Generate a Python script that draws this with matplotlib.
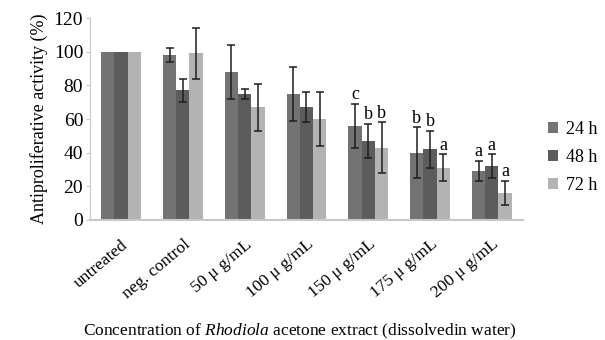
import numpy as np
import matplotlib
matplotlib.use("Agg")
import matplotlib.pyplot as plt

plt.rcParams["font.family"] = ["Liberation Serif", "DejaVu Serif"]
plt.rcParams["mathtext.fontset"] = "custom"
plt.rcParams["mathtext.rm"] = "Liberation Serif"
plt.rcParams["mathtext.it"] = "Liberation Serif:italic"

# Data
kategooriad = ["untreated", "neg. control", "50 \u03bc g/mL", "100 \u03bc g/mL",
               "150 \u03bc g/mL", "175 \u03bc g/mL", "200 \u03bc g/mL"]
seeriad = ["24 h", "48 h", "72 h"]
v24 = [100, 98, 88, 75, 56, 40, 29]
v48 = [100, 77, 75, 67, 47, 42, 32]
v72 = [100, 99, 67, 60, 43, 31, 16]
e24 = [0, 4, 16, 16, 13, 15, 6]
e48 = [0, 7, 3, 9, 10, 11, 7]
e72 = [0, 15, 14, 16, 15, 8, 7]
# significance letters (group index, series index, letter)
tahed = [(4, 0, "c"), (4, 1, "b"), (4, 2, "b"),
         (5, 0, "b"), (5, 1, "b"), (5, 2, "a"),
         (6, 0, "a"), (6, 1, "a"), (6, 2, "a")]

varvid = ["#737373", "#5c5c5c", "#b3b3b3"]

fig = plt.figure(figsize=(6.05, 3.4), dpi=100)
ax = fig.add_axes([0.149, 0.353, 0.715, 0.594])

x = np.arange(len(kategooriad))
laius = 0.215
vaartused = [v24, v48, v72]
vead = [e24, e48, e72]
for i in range(3):
    pos = x + (i - 1) * laius
    yerr = np.array(vead[i], dtype=float)
    ax.bar(pos, vaartused[i], laius, color=varvid[i], label=seeriad[i])
    mask = yerr > 0
    ax.errorbar(pos[mask], np.array(vaartused[i])[mask], yerr=yerr[mask],
                fmt="none", ecolor="#1e1e1e", elinewidth=1.1, capsize=3, capthick=1.1)

for g, s, t in tahed:
    yy = vaartused[s][g] + vead[s][g]
    ax.text(x[g] + (s - 1) * laius, yy + 0.5, t, ha="center", va="bottom", fontsize=13)

ax.set_xlim(-0.5, 6.5)
ax.set_ylim(0, 120)
ax.set_yticks(range(0, 121, 20))
ax.set_xticks(x)
ax.set_xticklabels(kategooriad, rotation=40, ha="right", rotation_mode="anchor", fontsize=12.5)
ax.tick_params(axis="x", length=0, pad=12)
ax.tick_params(axis="y", length=3, color="#c8c8c8", labelsize=14, pad=2)
for s in ["top", "right"]:
    ax.spines[s].set_visible(False)
ax.spines["left"].set_color("#c8c8c8")
ax.spines["bottom"].set_color("#c8c8c8")
ax.spines["bottom"].set_linewidth(1.5)

ax.set_ylabel("Antiproliferative activity (%)", fontsize=13, labelpad=4)
fig.text(0.496, 0.025, "Concentration of $\\it{Rhodiola}$ acetone extract (dissolvedin water)",
         ha="center", va="center", fontsize=12.5)

ax.legend(loc="center left", bbox_to_anchor=(1.02, 0.31), frameon=False, fontsize=13,
          handlelength=0.6, handleheight=0.6, handletextpad=0.4, labelspacing=0.6)

fig.savefig("out.png", dpi=100)
